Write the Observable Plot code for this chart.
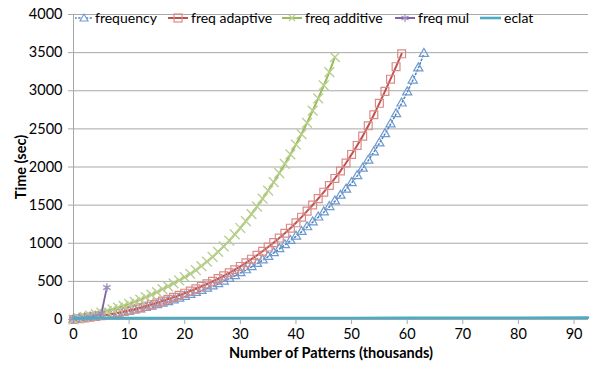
<!DOCTYPE html>
<html><head><meta charset="utf-8">
<script src="https://cdn.jsdelivr.net/npm/d3@7"></script>
<script src="https://cdn.jsdelivr.net/npm/@observablehq/plot@0.6"></script>
<style>
body{margin:0;background:#fff;}
#wrap{position:relative;width:591px;height:366px;font-family:Lato,sans-serif;}
#legend{position:absolute;top:9px;left:0;width:591px;height:17px;font-size:14px;color:#000;}
.item{position:absolute;top:0;height:17px;display:flex;align-items:center;white-space:nowrap;}
.item svg{margin-right:1px;}
#chart svg{overflow:visible;}
#chart g[aria-label="x-axis label"] text,#chart g[aria-label="y-axis label"] text{font-weight:bold;font-size:14.5px;}
</style></head>
<body><div id="wrap"><div id="chart"></div><div id="legend"></div></div>
<script>
const patterns = [0,1,2,3,4,5,6,7,8,9,10,11,12,13,14,15,16,17,18,19,20,21,22,23,24,25,26,27,28,29,30,31,32,33,34,35,36,37,38,39,40,41,42,43,44,45,46,47,48,49,50,51,52,53,54,55,56,57,58,59,60,61,62,63];
const frequency = [0,9,18,27,36,45,55,66,78,91,105,120,136,153,171,190,210,231,253,276,300,324,350,377,406,436,467,500,535,572,609,648,689,732,777,824,873,924,977,1032,1089,1150,1212,1275,1340,1407,1477,1550,1626,1706,1791,1883,1981,2085,2195,2311,2433,2561,2695,2835,2981,3136,3296,3486];
const freqAdaptive = [0,10,20,31,41,51,63,75,89,104,120,137,155,175,196,218,241,265,290,317,345,373,403,434,467,501,536,573,612,653,696,743,791,842,895,950,1008,1068,1131,1198,1268,1342,1421,1502,1585,1670,1758,1850,1947,2053,2165,2283,2405,2540,2685,2835,2992,3152,3316,3484];
const freqAdditive = [0,16,33,51,70,90,111,133,156,180,205,232,261,292,325,360,397,435,474,514,555,599,648,701,759,821,888,959,1035,1115,1200,1289,1383,1481,1584,1691,1803,1919,2040,2165,2295,2432,2580,2738,2900,3069,3245,3440];
const freqMul = [8,14,20,30,45,75,420];
const eclatPatterns = [0,10,20,30,40,50,60,70,80,92.5];
const eclat = [18,18,19,19,20,20,21,22,23,24];
const xTicks = [0,10,20,30,40,50,60,70,80,90];
const yTicks = [0,500,1000,1500,2000,2500,3000,3500,4000];
const seriesNames = ["frequency","freq adaptive","freq additive","freq mul","eclat"];

const rows = (xs, ys) => ys.map((v, i) => ({x: xs[i], y: v}));
const fr = rows(patterns, frequency);
const ad = rows(patterns, freqAdaptive);
const adt = rows(patterns, freqAdditive);
const mu = rows(patterns, freqMul);
const ec = rows(eclatPatterns, eclat);

const C = {blue:"#4F81BD", blueM:"#6E9AD0", red:"#C0504D", redM:"#D98B89", green:"#9BBB59", greenM:"#B9CF90", purple:"#8064A2", cyan:"#4BACC6"};

const chart = Plot.plot({
  width: 591, height: 366,
  marginTop: 14, marginBottom: 47, marginLeft: 73, marginRight: 3,
  style: {fontFamily: "Lato, sans-serif", fontSize: "14.5px", color: "#000", background: "white"},
  x: {domain: [0, 92.6]},
  y: {domain: [0, 4000]},
  marks: [
    Plot.ruleY(yTicks, {stroke: "#A8A8A8", strokeWidth: 1}),
    Plot.ruleX([0], {stroke: "#A8A8A8", strokeWidth: 1}),
    Plot.axisY({ticks: yTicks, tickSize: 5, tickPadding: 6, stroke: "#A8A8A8", label: "Time (sec)", labelAnchor: "center", labelOffset: 58, labelArrow: "none", tickFormat: d => String(d)}),
    Plot.axisX({ticks: xTicks, tickSize: 5, tickPadding: 4, stroke: "#A8A8A8", label: "Number of Patterns (thousands)", labelAnchor: "center", labelOffset: 38, labelArrow: "none"}),
    Plot.line(fr, {x: "x", y: "y", stroke: C.blue, strokeWidth: 1.6, strokeDasharray: "1.2,2.6", strokeLinecap: "round"}),
    Plot.dot(fr, {x: "x", y: "y", symbol: "triangle2", r: 4.4, stroke: C.blueM, strokeWidth: 1.2, fill: "none"}),
    Plot.line(ad, {x: "x", y: "y", stroke: C.red, strokeWidth: 2}),
    Plot.dot(ad, {x: "x", y: "y", symbol: "square2", r: 5, stroke: C.redM, strokeWidth: 1.2, fill: "none"}),
    Plot.line(adt, {x: "x", y: "y", stroke: C.green, strokeWidth: 2}),
    Plot.dot(adt, {x: "x", y: "y", symbol: "times", r: 4.5, stroke: C.greenM, strokeWidth: 1.4, fill: "none"}),
    Plot.line(mu, {x: "x", y: "y", stroke: C.purple, strokeWidth: 1.8}),
    Plot.dot(mu, {x: "x", y: "y", symbol: "asterisk", r: 4, stroke: "#A08CC0", strokeWidth: 1.3, fill: "none"}),
    Plot.line(ec, {x: "x", y: "y", stroke: C.cyan, strokeWidth: 2.6})
  ]
});
document.getElementById("chart").appendChild(chart);

// legend (HTML overlay)
const sym = {
  "frequency": `<svg width="18" height="12"><line x1="0" y1="6" x2="18" y2="6" stroke="${C.blue}" stroke-width="1.5" stroke-dasharray="1.2,2.6" stroke-linecap="round"/><path d="M9,2 L13,9 L5,9 Z" fill="white" stroke="${C.blueM}" stroke-width="1.1"/></svg>`,
  "freq adaptive": `<svg width="20" height="12"><line x1="0" y1="6" x2="20" y2="6" stroke="${C.red}" stroke-width="2"/><rect x="6" y="2" width="8" height="8" fill="none" stroke="${C.redM}" stroke-width="1.2"/></svg>`,
  "freq additive": `<svg width="20" height="12"><line x1="0" y1="6" x2="20" y2="6" stroke="${C.green}" stroke-width="2"/><path d="M7,3 L13,9 M13,3 L7,9" stroke="${C.greenM}" stroke-width="1.4"/></svg>`,
  "freq mul": `<svg width="20" height="12"><line x1="0" y1="6" x2="20" y2="6" stroke="${C.purple}" stroke-width="2"/><path d="M10,2 L10,10 M6.5,4 L13.5,8 M13.5,4 L6.5,8" stroke="#A08CC0" stroke-width="1.2"/></svg>`,
  "eclat": `<svg width="21" height="12"><line x1="0" y1="6" x2="21" y2="6" stroke="${C.cyan}" stroke-width="2.6"/></svg>`
};
const lefts = [75, 168, 282, 395, 480];
const lg = document.getElementById("legend");
seriesNames.forEach((n, i) => {
  const d = document.createElement("div");
  d.className = "item";
  d.style.left = lefts[i] + "px";
  d.innerHTML = sym[n] + `<span style="margin-left:${i===0?1:2}px">${n}</span>`;
  lg.appendChild(d);
});
</script></body></html>
